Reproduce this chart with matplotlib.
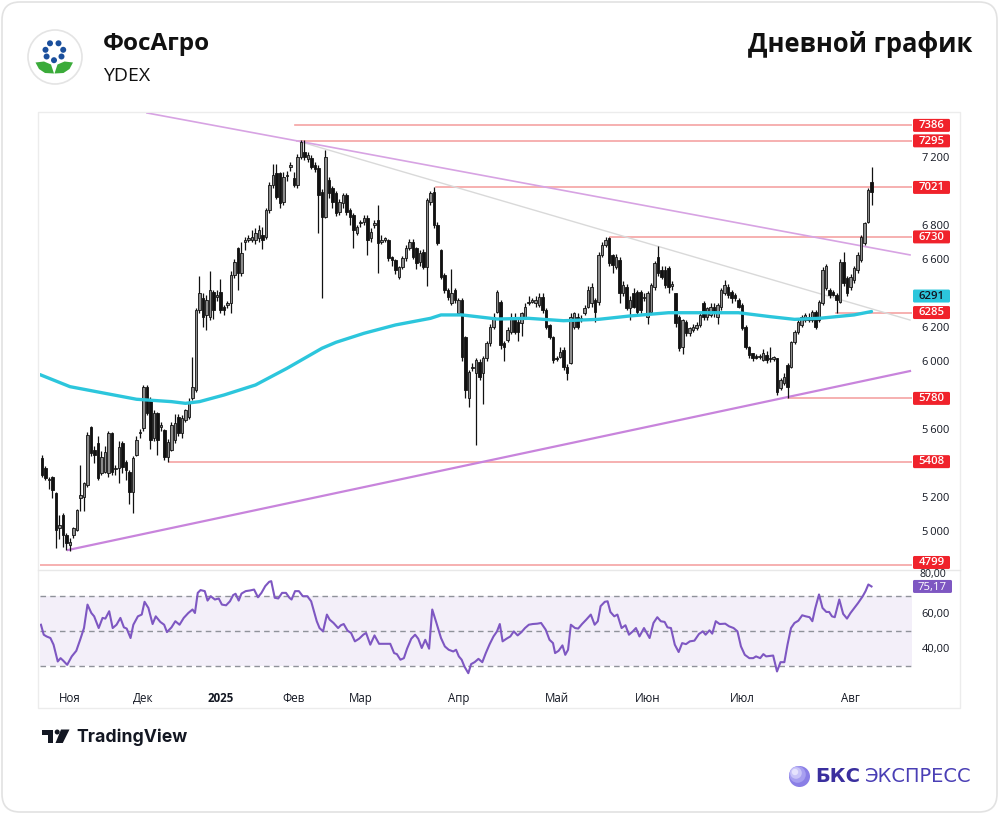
import matplotlib
matplotlib.use('Agg')
import matplotlib.pyplot as plt
from matplotlib.patches import Rectangle, FancyBboxPatch, Circle, Polygon
import numpy as np

plt.rcParams['font.family'] = ['Open Sans', 'DejaVu Sans']

# ---------------- data ----------------
opens = [5427,5369,5300,5320,5222,5016,5094,4976,4918,4976,
5006,5195,5202,5271,5614,5477,5516,5339,5349,5339,
5574,5365,5369,5516,5408,5349,5231,5447,5574,5604,
5849,5770,5545,5692,5610,5594,5437,5477,5535,5673,
5574,5653,5673,5780,5830,6300,6369,6271,6261,6408,
6378,6408,6320,6329,6339,6506,6663,6516,6702,6712,
6712,6712,6722,6741,6731,6888,7035,7104,7104,6937,
7090,7143,7075,7035,7202,7232,7190,7192,7150,7134,
6996,6849,7065,7016,6986,6879,6928,6977,6888,6859,
6751,6810,6820,6839,6722,6800,6829,6702,6712,6712,
6614,6594,6496,6555,6604,6663,6702,6663,6584,6643,
6555,6937,6996,6800,6653,6506,6418,6339,6418,6280,
6359,6143,5780,5957,5927,5996,5927,6016,6104,6202,
6290,6349,6104,6124,6173,6261,6231,6222,6261,6339,
6349,6339,6329,6378,6300,6212,6143,6016,6026,6065,
5967,5986,6202,6261,6241,6280,6320,6339,6359,6349,
6624,6682,6722,6624,6555,6594,6398,6437,6310,6398,
6408,6408,6369,6261,6290,6437,6614,6535,6535,6545,
6440,6398,6261,6084,6231,6163,6182,6192,6212,6339,
6261,6271,6320,6261,6320,6398,6437,6408,6388,6359,
6329,6202,6084,6045,6026,6022,6006,6035,6016,6014,
6016,5839,5869,5976,5967,6114,6173,6212,6241,6261,
6241,6290,6241,6339,6430,6418,6408,6388,6349,6584,
6486,6437,6477,6535,6594,6692,6820,7055]

highs = [5445,5380,5320,5325,5230,5094,5105,4990,4960,5025,
5130,5390,5290,5585,5620,5500,5560,5470,5500,5590,
5584,5390,5530,5530,5420,5360,5440,5560,5600,5860,
5860,5790,5710,5700,5640,5600,5540,5640,5690,5690,
5680,5720,5780,6026,6310,6500,6400,6390,6530,6420,
6420,6480,6330,6350,6530,6600,6670,6700,6730,6740,
6770,6780,6800,6790,6900,7050,7160,7160,7110,7110,
7120,7170,7110,7220,7300,7300,7230,7210,7170,7150,
7010,7241,7080,7030,7000,6950,6990,6990,6900,6870,
6800,6830,6860,6860,6780,6830,6920,6740,6730,6720,
6620,6600,6560,6620,6680,6720,6720,6670,6650,6660,
6960,7000,7025,6820,6660,6520,6430,6540,6430,6370,
6370,6150,5950,5990,6020,6010,6030,6120,6220,6280,
6420,6360,6120,6200,6280,6280,6250,6290,6340,6380,
6370,6380,6400,6400,6310,6220,6150,6030,6080,6080,
5980,6280,6290,6280,6270,6330,6440,6460,6370,6640,
6700,6731,6731,6630,6630,6610,6470,6450,6380,6430,
6420,6420,6400,6410,6460,6590,6676,6560,6560,6560,
6470,6400,6270,6250,6240,6200,6220,6230,6290,6350,
6320,6340,6340,6340,6430,6477,6450,6420,6400,6370,
6340,6210,6090,6050,6040,6040,6070,6060,6080,6030,
6020,5900,5930,5990,6120,6180,6250,6270,6280,6280,
6300,6300,6360,6550,6570,6430,6420,6400,6600,6643,
6500,6510,6560,6640,6740,6820,7016,7143]

lows = [5315,5300,5245,5192,4898,4955,4908,4890,4884,4960,
5000,5120,5120,5260,5440,5400,5300,5330,5340,5320,
5330,5330,5280,5340,5300,5160,5104,5440,5550,5590,
5680,5480,5530,5450,5590,5420,5408,5470,5520,5560,
5550,5640,5660,5770,5820,6280,6200,6180,6240,6250,
6350,6280,6270,6310,6280,6490,6420,6500,6650,6700,
6700,6690,6700,6660,6720,6870,7020,6950,6900,6920,
7060,7120,7025,7020,7190,7180,7170,7130,7110,6751,
6371,6840,6960,6900,6850,6860,6900,6860,6800,6663,
6740,6790,6800,6624,6700,6780,6516,6690,6700,6590,
6560,6510,6480,6540,6590,6650,6600,6540,6560,6540,
6440,6920,6780,6680,6480,6400,6360,6330,6340,6270,
6000,5780,5731,5940,5506,5890,5749,6000,6090,6190,
6280,6070,6000,6110,6160,6160,6120,6150,6250,6330,
6340,6320,6320,6280,6190,6130,5990,6000,6020,5950,
5888,5980,6190,6190,6230,6270,6310,6320,6230,6330,
6610,6670,6560,6520,6540,6340,6380,6300,6240,6310,
6270,6280,6350,6220,6280,6420,6500,6480,6430,6400,
6420,6200,6060,6040,6150,6150,6170,6180,6200,6240,
6240,6260,6260,6220,6300,6390,6370,6340,6350,6310,
6180,6070,6020,6000,6010,6010,6000,5990,5996,6000,
5800,5830,5860,5780,5960,6100,6160,6200,6230,6230,
6230,6190,6230,6330,6420,6370,6380,6285,6340,6440,
6380,6420,6460,6520,6580,6680,6810,6918]

closes = [5329,5310,5302,5241,5006,5035,4976,4927,4937,5016,
5123,5210,5280,5565,5457,5447,5310,5437,5467,5574,
5349,5372,5496,5378,5359,5231,5427,5535,5584,5849,
5692,5535,5692,5535,5624,5437,5526,5624,5633,5574,
5663,5712,5761,5849,6300,6398,6261,6359,6418,6300,
6390,6300,6300,6339,6506,6584,6516,6633,6712,6722,
6731,6751,6771,6712,6888,7035,7094,6967,6928,7084,
7094,7150,7035,7202,7290,7202,7210,7143,7130,6977,
6849,7202,6986,6937,6869,6937,6977,6879,6849,6771,
6790,6815,6839,6712,6761,6810,6692,6712,6722,6604,
6594,6535,6555,6604,6663,6702,6614,6575,6633,6555,
6947,6986,6800,6692,6496,6418,6378,6398,6359,6359,
6026,5829,5937,5967,6006,5908,6016,6104,6202,6261,
6408,6094,6084,6182,6261,6173,6173,6280,6320,6349,
6359,6359,6378,6300,6202,6143,6006,6010,6055,5967,
5927,6261,6280,6202,6251,6310,6418,6437,6290,6624,
6682,6712,6575,6565,6614,6398,6447,6310,6359,6320,
6290,6300,6378,6398,6447,6575,6516,6496,6447,6437,
6455,6222,6075,6241,6163,6192,6202,6212,6271,6261,
6310,6320,6280,6329,6418,6447,6388,6369,6369,6320,
6192,6084,6035,6016,6020,6026,6045,6006,6010,6018,
5820,5888,5908,5849,6114,6173,6231,6261,6271,6241,
6290,6202,6349,6535,6560,6388,6388,6359,6584,6457,
6398,6496,6545,6624,6731,6810,7006,6996]

# 200-day moving average (sampled from chart)
ma_bar = [-0.6, 8, 18, 27, 37, 41, 45, 52, 61, 70, 80, 84, 92, 101, 111, 114, 120,
          130, 139, 149, 159, 168, 179, 189, 199, 208, 215, 222, 232, 237]
ma_val = [5920, 5849, 5810, 5775, 5761, 5751, 5761, 5800, 5859, 5957, 6075, 6110, 6163,
          6212, 6251, 6271, 6271, 6247, 6251, 6237, 6245, 6265, 6284, 6284, 6284, 6261,
          6245, 6251, 6271, 6291]

# RSI(14)
rsi_bar = [-0.3,0.5,1.3,2.4,3.3,4.5,5.3,6.1,7.2,8.5,9.8,10.9,12.0,13.0,14.1,14.9,16.2,17.3,18.1,19.2,
20.2,21.3,22.4,23.4,24.2,25.3,26.1,27.4,28.5,29.3,30.4,31.6,32.5,33.8,34.9,35.7,37.0,38.1,39.3,40.5,
41.8,43.0,43.7,44.5,45.3,46.5,47.3,48.2,49.4,50.5,51.4,52.6,53.7,54.6,55.3,56.2,57.0,58.2,59.5,60.6,
61.7,62.7,63.8,64.9,65.5,66.5,67.5,68.6,69.7,70.7,71.3,72.3,73.4,74.5,75.8,76.9,77.7,78.5,79.3,80.3,
81.4,82.2,83.3,84.6,85.4,86.2,87.3,88.3,89.4,90.6,91.8,92.6,93.8,95.0,96.3,97.4,98.6,99.5,100.6,101.4,
102.4,103.4,104.3,105.5,106.6,107.5,108.5,109.5,110.6,111.5,112.7,114.0,115.1,116.2,117.5,118.3,119.1,119.9,120.7,121.8,
122.6,123.6,124.7,125.8,126.8,127.9,129.0,130.0,130.8,131.6,132.7,133.8,134.8,135.9,137.0,138.0,139.1,140.2,141.5,142.6,
143.9,145.0,146.0,146.6,147.6,148.7,149.5,150.3,151.1,152.3,153.2,154.3,155.5,156.8,157.9,158.8,159.6,160.8,161.6,162.4,
163.5,164.4,165.6,166.7,167.7,168.8,169.7,170.7,172.0,172.8,173.6,174.7,175.8,176.8,177.9,178.7,179.7,180.8,181.9,182.9,
184.0,185.1,186.4,187.7,188.8,189.6,190.7,191.5,192.5,193.6,195.2,196.3,197.6,198.7,199.7,200.8,202.1,203.2,204.0,205.2,
206.1,206.9,208.1,208.9,210.0,211.0,212.1,213.0,214.0,215.0,216.1,217.2,218.2,219.3,220.1,220.9,222.0,223.0,224.1,224.9,
225.7,226.5,227.8,228.9,230.0,231.0,232.1,233.2,234.5,235.3,236.1,237.0]
rsi_val = [53.3,47.6,46.6,45.7,41.9,32.3,34.2,32.7,30.4,35.2,38.4,44.7,51.4,64.8,60.0,58.1,51.4,57.2,56.8,61.0,
51.4,53.3,57.2,51.8,51.1,45.7,53.3,58.1,59.1,66.4,62.9,53.7,58.1,54.9,53.3,49.1,51.8,55.3,53.3,57.2,
60.0,62.0,60.0,71.5,73.1,72.5,67.1,69.6,67.7,68.3,64.8,64.4,66.7,70.2,71.0,67.1,71.1,72.5,72.9,73.4,
69.0,71.5,75.4,77.8,78.2,68.7,68.3,71.5,71.5,68.7,67.7,72.5,72.5,69.6,69.6,66.7,61.0,55.3,51.4,49.5,
59.1,56.2,54.3,51.4,53.0,53.7,49.9,48.6,43.8,45.3,47.6,48.6,41.9,47.2,42.4,42.4,42.4,42.4,37.1,36.5,
33.3,34.2,39.6,45.3,47.6,45.3,40.0,44.7,39.6,62.0,54.3,45.7,40.9,39.0,38.0,39.0,35.2,33.3,29.4,25.6,
30.8,31.9,33.8,31.9,37.1,42.2,46.6,49.5,53.7,43.8,45.3,46.6,49.5,47.2,49.1,51.4,53.3,53.7,53.9,54.3,
50.5,44.7,42.8,37.1,38.4,41.5,36.1,39.0,53.3,51.4,51.1,53.7,56.2,59.1,53.3,55.3,63.9,66.4,66.7,60.6,
58.1,59.1,51.4,53.0,47.6,49.5,51.4,46.6,51.4,48.6,45.7,54.3,57.6,55.3,54.9,51.8,51.4,41.9,37.7,42.8,
42.2,43.8,44.2,48.0,49.5,47.6,50.1,48.2,55.3,53.7,53.9,52.4,51.4,49.5,40.9,36.1,34.2,34.2,35.2,34.2,
36.5,35.2,35.5,35.7,26.6,31.9,31.9,41.9,51.4,54.3,55.6,58.7,58.1,57.6,55.3,62.5,70.6,62.9,60.6,60.6,
58.1,57.6,67.7,59.5,56.8,60.0,62.9,65.8,69.6,72.5,76.3,75.17]

# drawn levels: price and first bar
level_price = [7386, 7295, 7021, 6730, 6285, 5780, 5408, 4799]
level_start = [72.3, 72.9, 112.6, 162.3, 226.9, 213.0, 36.2, -0.6]
# trend lines: (bar0, price0, bar1, price1)
upper_line = (30.0, 7459, 248.0, 6624)
mid_line = (72.9, 7295, 248.0, 6241)
lower_line = (7.4, 4888, 248.0, 5941)

price_ticks = [7200, 6800, 6600, 6200, 6000, 5600, 5200, 5000]
rsi_ticks = [60, 40]
rsi_top_tick = 80
month_pos = [8, 29, 51, 72, 91, 119, 147, 173, 200, 231]
month_lab = ['Ноя', 'Дек', '2025', 'Фев', 'Мар', 'Апр', 'Май', 'Июн', 'Июл', 'Авг']
ma_last = 6291
rsi_last = 75.17

# ---------------- figure ----------------
W, H = 1000, 815
fig = plt.figure(figsize=(10, 8.15), dpi=100)
fig.patch.set_facecolor('white')

bg = fig.add_axes([0, 0, 1, 1], zorder=0)
bg.set_xlim(0, W); bg.set_ylim(H, 0); bg.axis('off')

def box(l, t, r, b):
    return [l / W, 1 - b / H, (r - l) / W, (b - t) / H]

ax = fig.add_axes(box(40, 113, 912, 569), zorder=2)
rax = fig.add_axes(box(40, 571, 912, 684), zorder=2)
for a in (ax, rax):
    a.set_facecolor('none')
    for s in a.spines.values():
        s.set_visible(False)
    a.set_xlim(-0.57, 248.57)
ax.set_ylim(4776.5, 7458.8)
rax.set_ylim(19.43, 84.0)

# card + panel frame
bg.add_patch(FancyBboxPatch((2, 2), 995, 810, boxstyle='round,pad=0,rounding_size=18',
                            fc='white', ec='#e2e2e2', lw=1.2))
bg.add_patch(Rectangle((38, 112), 922, 596, fill=False, ec='#ececec', lw=1.0))
bg.plot([38, 960], [570, 570], color='#e8e8e8', lw=1.0)

# candles
idx = np.arange(len(closes))
o = np.array(opens, float); h = np.array(highs, float)
l = np.array(lows, float); c = np.array(closes, float)
up = c >= o
ax.vlines(idx, l, h, color='#111111', lw=0.9, zorder=3)
lo = np.minimum(o, c); ht = np.maximum(np.abs(c - o), 7)
ax.bar(idx[up], ht[up], bottom=lo[up], width=0.72, color='#8c8c8c',
       edgecolor='#111111', linewidth=0.6, zorder=4)
ax.bar(idx[~up], ht[~up], bottom=lo[~up], width=0.72, color='#111111',
       edgecolor='#111111', linewidth=0.6, zorder=4)

# MA
ax.plot(ma_bar, ma_val, color='#2cc6dc', lw=2.4, zorder=5, solid_capstyle='round')

# levels
for p, s in zip(level_price, level_start):
    ax.plot([s, 248.57], [p, p], color='#f5a3a3', lw=1.2, zorder=2)

# trend lines
ax.plot(upper_line[0::2], upper_line[1::2], color='#d7a3e3', lw=1.2, zorder=2.5)
ax.plot(mid_line[0::2], mid_line[1::2], color='#d9d9d9', lw=1.0, zorder=2.4)
ax.plot(lower_line[0::2], lower_line[1::2], color='#c884dc', lw=1.6, zorder=2.5)

# price axis ticks
ax.set_xticks([])
ax.yaxis.tick_right()
ax.set_yticks(price_ticks)
ax.set_yticklabels([f'{t // 1000}\u2009{t % 1000:03d}' for t in price_ticks])
ax.tick_params(axis='y', length=0, pad=7, labelsize=8, labelcolor='#131722')

def to_bg(a, x, y):
    return bg.transData.inverted().transform(a.transData.transform((x, y)))

def label(a, value, text, fc, tc, dy=0.0):
    yy = to_bg(a, 0, value)[1] + dy
    bg.add_patch(FancyBboxPatch((913, yy - 6.5), 37, 13, boxstyle='round,pad=0,rounding_size=1.5',
                                fc=fc, ec='none', zorder=6))
    bg.text(931.5, yy + 0.3, text, ha='center', va='center', color=tc, fontsize=8.2,
            fontweight='semibold', zorder=7)

# label offsets (px) mimic the chart's anti-overlap shifting of price tags
label_dy = {4799: -2.7}
for p in level_price:
    label(ax, p, str(p), '#f0222b', 'white', label_dy.get(p, 0.0))
label(ax, ma_last, str(ma_last), '#2cc6dc', '#131722', dy=-15.5)

# RSI
rax.axhspan(30, 70, color='#7e57c2', alpha=0.09, lw=0, zorder=1)
for lv in (70, 50, 30):
    rax.axhline(lv, color='#8f929a', lw=1.0, ls=(0, (4, 3)), zorder=2)
rax.plot(rsi_bar, rsi_val, color='#7e57c2', lw=1.5, zorder=4)
rax.yaxis.tick_right()
rax.set_yticks(rsi_ticks)
rax.set_yticklabels([f'{t},00' for t in rsi_ticks])
rax.tick_params(axis='y', length=0, pad=7, labelsize=8, labelcolor='#131722')
rax.set_xticks(month_pos)
rax.set_xticklabels(month_lab)
rax.tick_params(axis='x', length=0, pad=6, labelsize=8.3, labelcolor='#131722')
for t in rax.get_xticklabels():
    if t.get_text() == '2025':
        t.set_fontweight('bold')
# top RSI tick label, squeezed between the two value tags
y80 = to_bg(rax, 0, rsi_top_tick)[1]
bg.text(919.5, y80 - 3.5, f'{rsi_top_tick},00', ha='left', va='center', fontsize=7.6,
        color='#131722', zorder=5)
yy = to_bg(rax, 0, rsi_last)[1]
bg.add_patch(FancyBboxPatch((913, yy - 6.5), 39, 13, boxstyle='round,pad=0,rounding_size=1.5',
                            fc='#7e57c2', ec='none', zorder=6))
bg.text(932.5, yy + 0.6, f'{rsi_last:.2f}'.replace('.', ','), ha='center', va='center',
        color='white', fontsize=8.2, zorder=7)

# ---------------- header ----------------
bg.add_patch(Circle((55, 57), 27, fc='white', ec='#e4e4e4', lw=1.2))
for (dx, dy) in [(50, 43.3), (58.5, 43.3), (45.5, 49.8), (63.2, 49.8), (46.6, 56.5), (61.5, 56.5), (54, 60.2)]:
    bg.add_patch(Circle((dx, dy), 3.0, fc='#1b4f9c', ec='none'))
bg.add_patch(Polygon([(35.5, 62.5), (44, 61.5), (51, 64.5), (54, 73.5), (45, 73), (39, 69)],
                     closed=True, fc='#3bab3a', ec='none'))
bg.add_patch(Polygon([(73, 62.5), (64.5, 61.5), (57.5, 64.5), (54.5, 73.5), (63.5, 73), (69.5, 69)],
                     closed=True, fc='#3bab3a', ec='none'))
bg.text(103, 44, 'ФосАгро', fontsize=17.5, fontweight='bold', color='#111111', va='center', ha='left')
bg.text(103, 76, 'YDEX', fontsize=14, color='#111111', va='center', ha='left')
bg.text(972, 44, 'Дневной график', fontsize=18.4, fontweight='bold', color='#111111',
        va='center', ha='right')

# TradingView logo
bg.add_patch(Polygon([(42, 729.5), (53, 729.5), (53, 743), (47.8, 743), (47.8, 734.5), (42, 734.5)],
                     closed=True, fc='#131722', ec='none'))
bg.add_patch(Circle((57.2, 732), 2.5, fc='#131722', ec='none'))
bg.add_patch(Polygon([(61, 729.5), (69.5, 729.5), (62.8, 743), (55.5, 743)], closed=True,
                     fc='#131722', ec='none'))
bg.text(76, 737, 'TradingView', fontsize=12.7, fontweight='bold', color='#131722',
        va='center', ha='left', family=['Inter', 'DejaVu Sans'])

# BKS logo
bg.add_patch(Circle((799.5, 776.5), 10.5, fc='#8a7fe6', ec='none'))
bg.add_patch(Circle((797.5, 774.5), 8.3, fc='#a79ff0', ec='none'))
bg.add_patch(Circle((796, 773), 5.8, fc='#c9c4f8', ec='none'))
bg.add_patch(Circle((795, 772), 3.2, fc='#e6e3fd', ec='none'))
bg.text(815, 777, 'БКС', fontsize=14, fontweight='bold', color='#3a2f9e', va='center', ha='left',
        family=['DejaVu Sans'])
bg.text(972, 777, 'ЭКСПРЕСС', fontsize=14, color='#4a3fb5', va='center', ha='right',
        family=['DejaVu Sans'])

fig.savefig('out.png', dpi=100, facecolor='white')
